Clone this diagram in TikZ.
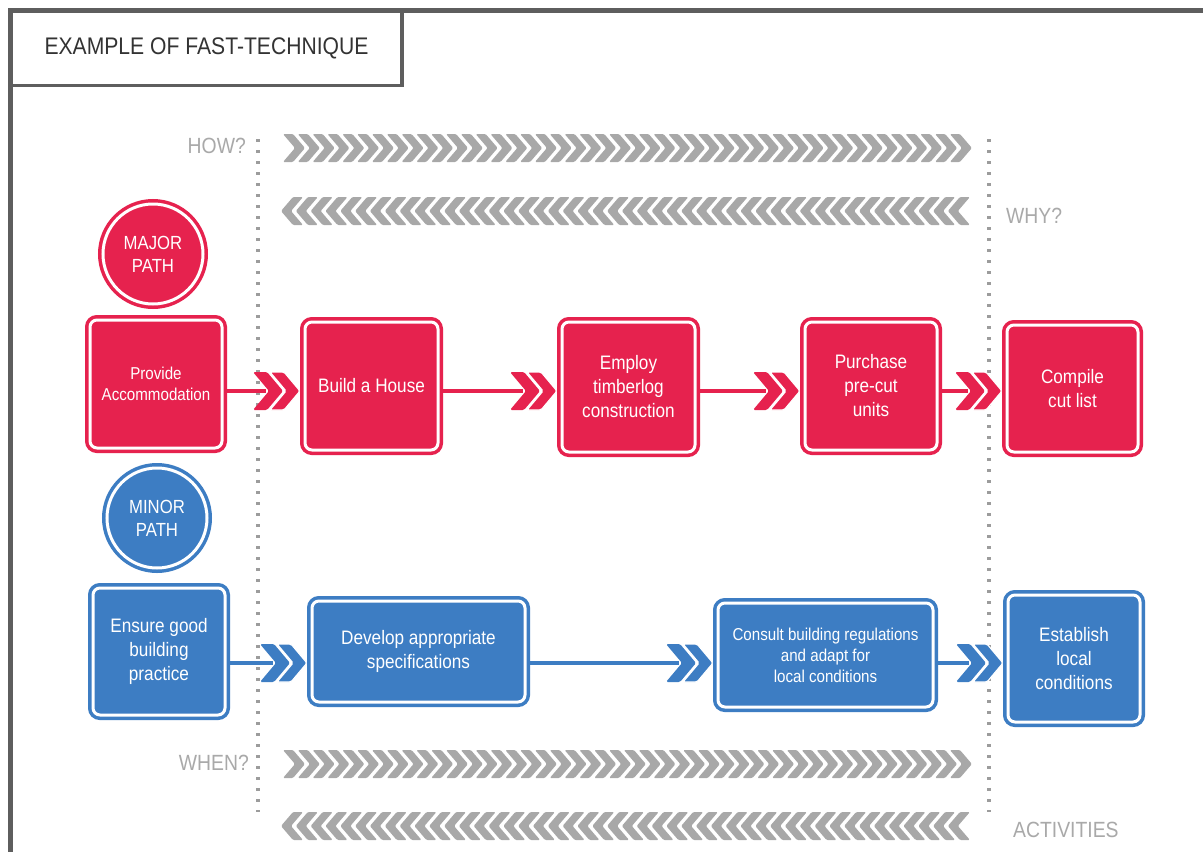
\documentclass[tikz,border=0pt]{standalone}
\usepackage{fontspec}
\setmainfont{Liberation Sans}[FakeStretch=0.88]
\usetikzlibrary{calc}
\definecolor{pathred}{HTML}{E6224E}
\definecolor{pathblue}{HTML}{3D7DC3}
\definecolor{framegray}{HTML}{5E5E5E}
\definecolor{bandgray}{HTML}{A8A8A8}
\definecolor{dotgray}{HTML}{9C9C9C}
\definecolor{labelgray}{HTML}{A9A9A9}
\newcommand\boxfont{\fontsize{19.5}{24}\selectfont}
\newcommand\smallboxfont{\fontsize{17.2}{21}\selectfont}

% straight connector ending in a double chevron at the target box
\newcommand\flowlink[4]{%
  \draw[#4, line width=4pt] (#1.east |- #3) -- ($(#2.west |- #3)+(-34,0)$);
  \pic[color=#4] at ($(#2.west |- #3)+(-47,0)$) {flowchev};
  \pic[color=#4] at ($(#2.west |- #3)+(-30,0)$) {flowchevsep};
}

\begin{document}
\begin{tikzpicture}[x=1pt,y=-1pt,
  stage/.style={rectangle, rounded corners=7pt, fill=#1, draw=#1, double=white,
    double distance=3pt, line width=3.5pt, outer sep=5pt, inner sep=0pt,
    text=white, align=center, font=\boxfont},
  stage/.default=pathred,
  badge/.style={circle, fill=#1, draw=#1, double=white, double distance=3pt,
    line width=3.5pt, outer sep=5pt, inner sep=0pt, minimum size=100pt,
    text=white, align=center, font=\fontsize{19}{23}\selectfont},
  badge/.default=pathred,
  axislabel/.style={text=labelgray, font=\fontsize{22}{26}\selectfont, inner sep=0pt},
  guide/.style={dotgray, line width=3.5pt, dash pattern=on 3pt off 8pt},
  chevR/.pic={\fill[rounded corners=1.2pt] (0,-14) -- (10,-14) -- (22,0) -- (10,14) -- (0,14) -- (12,0) -- cycle;},
  chevL/.pic={\fill[rounded corners=1.2pt] (0,-14) -- (-10,-14) -- (-22,0) -- (-10,14) -- (0,14) -- (-12,0) -- cycle;},
  flowchev/.pic={\fill[rounded corners=1.5pt] (0,-19) -- (14,-19) -- (30,0) -- (14,19) -- (0,19) -- (16,0) -- cycle;},
  flowchevsep/.pic={\filldraw[draw=white, line width=1.2pt, rounded corners=1.5pt] (0,-19) -- (14,-19) -- (30,0) -- (14,19) -- (0,19) -- (16,0) -- cycle;},
]
\useasboundingbox (0,0) rectangle (1203,852);
\fill[white] (0,0) rectangle (1203,852);

% outer frame and title tab
\draw[framegray, line width=5pt] (10.5,852) -- (10.5,10.5) -- (1203,10.5);
\node[draw=framegray, line width=3.5pt, minimum width=391pt, minimum height=74pt,
  inner sep=0pt, font=\fontsize{24}{28}\selectfont, text=black!80] (title)
  at (206.5,48.5) {EXAMPLE OF FAST-TECHNIQUE};

% dotted guides
\draw[guide] (258,139) -- (258,812);
\draw[guide] (989,139) -- (989,812);

% chevron bands
\foreach \i in {0,...,45} {
  \pic[color=bandgray] at ({283+\i*14.82},148) {chevR};
  \pic[color=bandgray] at ({303+\i*14.82},211) {chevL};
  \pic[color=bandgray] at ({283+\i*14.82},764) {chevR};
  \pic[color=bandgray] at ({303+\i*14.82},826) {chevL};
}

% axis labels
\node[axislabel, anchor=base east] (how) at (246,153) {HOW?};
\node[axislabel, anchor=base west] (why) at (1006,223) {WHY?};
\node[axislabel, anchor=base east] (when) at (249,770) {WHEN?};
\node[axislabel, anchor=base west] (act) at (1013,837) {ACTIVITIES};

% path badges
\node[badge=pathred] (major) at (153,254) {MAJOR\\PATH};
\node[badge=pathblue] (minor) at (157,518) {MINOR\\PATH};

% major path
\coordinate (redrow) at (0,391);
\node[stage, minimum width=132pt, minimum height=128pt, font=\smallboxfont] (prov) at (156,384) {Provide\\Accommodation};
\node[stage, minimum width=133pt, minimum height=128pt] (build) at (371.5,386) {Build a House};
\node[stage, minimum width=133pt, minimum height=130pt] (employ) at (628.5,387) {Employ\\timberlog\\construction};
\node[stage, minimum width=132pt, minimum height=128pt] (purch) at (871,386) {Purchase\\pre-cut\\units};
\node[stage, minimum width=131pt, minimum height=127pt] (compile) at (1072.5,388.5) {Compile\\cut list};

\flowlink{prov}{build}{redrow}{pathred}
\flowlink{build}{employ}{redrow}{pathred}
\flowlink{employ}{purch}{redrow}{pathred}
\flowlink{purch}{compile}{redrow}{pathred}

% minor path
\coordinate (bluerow) at (0,663);
\node[stage=pathblue, minimum width=132pt, minimum height=127pt] (ensure) at (159,651.5) {Ensure good\\building\\practice};
\node[stage=pathblue, minimum width=213pt, minimum height=101pt] (develop) at (418.5,651.5) {Develop appropriate\\specifications};
\node[stage=pathblue, minimum width=215pt, minimum height=104pt, font=\smallboxfont] (consult) at (825.5,655) {Consult building regulations\\and adapt for\\local conditions};
\node[stage=pathblue, minimum width=132pt, minimum height=127pt] (establish) at (1074,658.5) {Establish\\local\\conditions};

\flowlink{ensure}{develop}{bluerow}{pathblue}
\flowlink{develop}{consult}{bluerow}{pathblue}
\flowlink{consult}{establish}{bluerow}{pathblue}
\end{tikzpicture}
\end{document}
